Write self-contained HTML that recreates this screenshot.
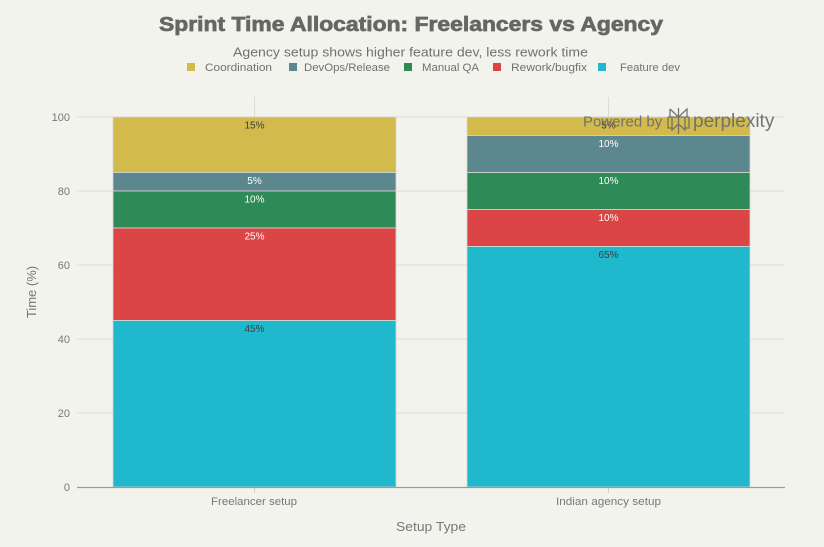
<!DOCTYPE html>
<html><head><meta charset="utf-8"><style>
html,body{margin:0;padding:0;background:#f3f3ee;}
svg{display:block;font-family:"Liberation Sans",Arial,sans-serif;}
</style></head><body>
<svg width="824" height="547" viewBox="0 0 824 547" xmlns="http://www.w3.org/2000/svg">
<rect width="824" height="547" fill="#f3f3ee"/>
<!-- title -->
<text x="411" y="31" text-anchor="middle" font-size="20" font-weight="bold" fill="#666" stroke="#666" stroke-width="0.7" textLength="504" lengthAdjust="spacingAndGlyphs">Sprint Time Allocation: Freelancers vs Agency</text>
<text x="233" y="56.5" font-size="13" fill="#707070" textLength="355" lengthAdjust="spacingAndGlyphs">Agency setup shows higher feature dev, less rework time</text>
<!-- legend -->
<g font-size="11" fill="#707070">
<rect x="187" y="63" width="8" height="8" fill="#D2BA4C"/><text x="205" y="71" textLength="67" lengthAdjust="spacingAndGlyphs">Coordination</text>
<rect x="289" y="63" width="8" height="8" fill="#5D878F"/><text x="304" y="71" textLength="86" lengthAdjust="spacingAndGlyphs">DevOps/Release</text>
<rect x="404" y="63" width="8" height="8" fill="#2E8B57"/><text x="422" y="71" textLength="57" lengthAdjust="spacingAndGlyphs">Manual QA</text>
<rect x="493" y="63" width="8" height="8" fill="#DB4545"/><text x="511" y="71" textLength="76" lengthAdjust="spacingAndGlyphs">Rework/bugfix</text>
<rect x="598" y="63" width="8" height="8" fill="#1FB8CD"/><text x="620" y="71" textLength="60" lengthAdjust="spacingAndGlyphs">Feature dev</text>
</g>
<!-- grid -->
<g stroke="#dcdcd6" stroke-width="1">
<line x1="77" y1="117" x2="785" y2="117"/>
<line x1="77" y1="191" x2="785" y2="191"/>
<line x1="77" y1="265" x2="785" y2="265"/>
<line x1="77" y1="339" x2="785" y2="339"/>
<line x1="77" y1="413" x2="785" y2="413"/>
<line x1="254.5" y1="97" x2="254.5" y2="487"/>
<line x1="608.5" y1="97" x2="608.5" y2="487"/>
</g>
<!-- y tick labels -->
<g font-size="11" fill="#777" text-anchor="end">
<text x="70" y="121">100</text>
<text x="70" y="195">80</text>
<text x="70" y="269">60</text>
<text x="70" y="343">40</text>
<text x="70" y="417">20</text>
<text x="70" y="491">0</text>
</g>
<text transform="translate(36,292) rotate(-90)" text-anchor="middle" font-size="13" fill="#777">Time (%)</text>
<!-- bars freelancer -->
<g stroke="#d8d8d2" stroke-width="0.8">
<rect x="113" y="117" width="283" height="55.5" fill="#D2BA4C"/>
<rect x="113" y="172.5" width="283" height="18.5" fill="#5D878F"/>
<rect x="113" y="191" width="283" height="37" fill="#2E8B57"/>
<rect x="113" y="228" width="283" height="92.5" fill="#DB4545"/>
<rect x="113" y="320.5" width="283" height="166.5" fill="#1FB8CD"/>
<!-- agency -->
<rect x="467" y="117" width="283" height="18.5" fill="#D2BA4C"/>
<rect x="467" y="135.5" width="283" height="37" fill="#5D878F"/>
<rect x="467" y="172.5" width="283" height="37" fill="#2E8B57"/>
<rect x="467" y="209.5" width="283" height="37" fill="#DB4545"/>
<rect x="467" y="246.5" width="283" height="240.5" fill="#1FB8CD"/>
</g>
<!-- data labels -->
<g font-size="10" text-anchor="middle">
<text x="254.5" y="128.5" fill="#3d3d3d">15%</text>
<text x="254.5" y="184" fill="#fff">5%</text>
<text x="254.5" y="202.5" fill="#fff">10%</text>
<text x="254.5" y="239.5" fill="#fff">25%</text>
<text x="254.5" y="332" fill="#3d3d3d">45%</text>
<text x="608.5" y="128.5" fill="#3d3d3d">5%</text>
<text x="608.5" y="147" fill="#fff">10%</text>
<text x="608.5" y="184" fill="#fff">10%</text>
<text x="608.5" y="221" fill="#fff">10%</text>
<text x="608.5" y="258" fill="#3d3d3d">65%</text>
</g>
<!-- axis -->
<line x1="77" y1="487.5" x2="785" y2="487.5" stroke="#9a9a9a" stroke-width="1.2"/>
<line x1="254.5" y1="488" x2="254.5" y2="493" stroke="#cfcfca"/>
<line x1="608.5" y1="488" x2="608.5" y2="493" stroke="#cfcfca"/>
<g font-size="11" fill="#777">
<text x="211" y="505" textLength="86" lengthAdjust="spacingAndGlyphs">Freelancer setup</text>
<text x="556" y="505" textLength="105" lengthAdjust="spacingAndGlyphs">Indian agency setup</text>
</g>
<text x="396" y="531" font-size="13" fill="#777" textLength="70" lengthAdjust="spacingAndGlyphs">Setup Type</text>
<!-- watermark -->
<g fill="#6e6e6e" opacity="0.95">
<text x="583" y="126.5" font-size="15">Powered by</text>
<g stroke="#6e6e6e" stroke-width="1.3" fill="none">
<line x1="678.5" y1="108" x2="678.5" y2="134"/>
<path d="M670 109 L678.5 117 L687 109 L687 117 M670 109 L670 117 M668 117 L689 117 M668 117 L668 128 L672 128 M689 117 L689 128 L685 128 M672 117 L672 130 L678.5 124 L685 130 L685 117"/>
</g>
<text x="693" y="127" font-size="19">perplexity</text>
</g>
</svg>
</body></html>
